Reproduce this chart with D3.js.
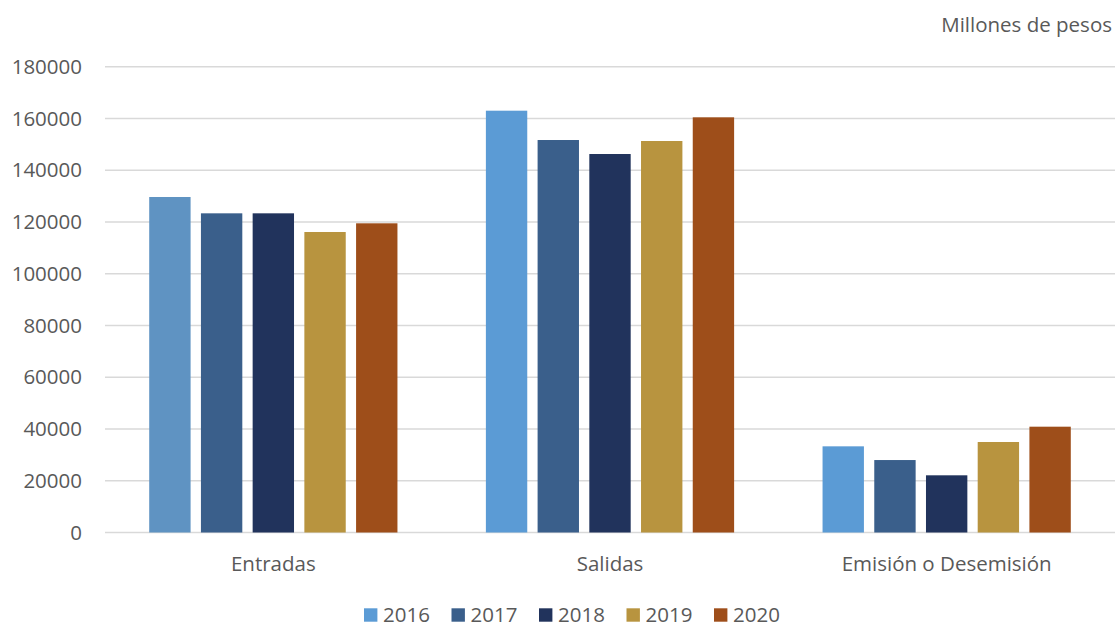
<!DOCTYPE html>
<html>
<head>
<meta charset="utf-8">
<script src="https://cdn.jsdelivr.net/npm/d3@7"></script>
<style>
  body { margin:0; background:#fff; }
  text { font-family:"Open Sans", sans-serif; fill:#595959; }
</style>
</head>
<body>
<div id="plot"></div>
<script>
//data
var categories = ['Entradas','Salidas','Emisión o Desemisión'];
var years = ['2016','2017','2018','2019','2020'];
var values2016 = [129650, 163000, 33300];
var values2017 = [123340, 151670, 28000];
var values2018 = [123340, 146260, 22100];
var values2019 = [116120, 151290, 34970];
var values2020 = [119480, 160440, 40890];
var yTicks = [0,20000,40000,60000,80000,100000,120000,140000,160000,180000];

var colors = ['#5b9bd5','#3a5f8b','#21335c','#b8943f','#9e4e1a'];
var seriesValues = [values2016, values2017, values2018, values2019, values2020];

var W = 1115, H = 627;
var margin = {t:66.7, r:0, b:94.5, l:105};
var width = W - margin.l - margin.r,
	height = H - margin.t - margin.b;

var svg = d3.select('#plot')
	.append('svg')
	.attr('width', W)
	.attr('height', H);

var plot = svg.append('g')
	.attr('transform','translate('+margin.l+','+margin.t+')');

var x0 = d3.scaleBand().domain(categories).range([0,width]);
var x1 = d3.scaleBand().domain(years).range([0,x0.bandwidth()])
	.paddingInner(0.2).paddingOuter(0.855);
var y = d3.scaleLinear().domain([0,180000]).range([height,0]);

//gridlines
plot.selectAll('.grid')
	.data(yTicks)
	.enter()
	.append('line')
	.attr('x1',0).attr('x2',width)
	.attr('y1',function(d){return y(d);})
	.attr('y2',function(d){return y(d);})
	.style('stroke','#d9d9d9')
	.style('stroke-width',1.4);

//tick labels
plot.selectAll('.tick')
	.data(yTicks)
	.enter()
	.append('text')
	.attr('x',-23)
	.attr('y',function(d){return y(d);})
	.attr('dy','0.35em')
	.attr('text-anchor','end')
	.style('font-size','20.5px')
	.text(function(d){return d;});

//bars
var groups = plot.selectAll('.cat')
	.data(categories)
	.enter()
	.append('g')
	.attr('transform',function(d){return 'translate('+x0(d)+',0)';});

groups.selectAll('rect')
	.data(function(c,ci){
		return years.map(function(yr,i){return {cat:c, year:yr, i:i, value:seriesValues[i][ci]};});
	})
	.enter()
	.append('rect')
	.attr('x',function(d){return x1(d.year);})
	.attr('width',x1.bandwidth())
	.attr('y',function(d){return y(d.value);})
	.attr('height',function(d){return height - y(d.value);})
	.style('fill',function(d){
		//the first bar is a touch greyer in the original
		if (d.cat=='Entradas' && d.i==0) return '#5f93c2';
		return colors[d.i];
	});

//category labels
plot.selectAll('.catlabel')
	.data(categories)
	.enter()
	.append('text')
	.attr('x',function(d){return x0(d)+x0.bandwidth()/2;})
	.attr('y',height+31)
	.attr('dy','0.35em')
	.attr('text-anchor','middle')
	.style('font-size','20.5px')
	.text(function(d){return d;});

//unit label
svg.append('text')
	.attr('x',1112)
	.attr('y',25)
	.attr('dy','0.35em')
	.attr('text-anchor','end')
	.style('font-size','20.5px')
	.text('Millones de pesos');

//legend
var legend = svg.selectAll('.legend')
	.data(years)
	.enter()
	.append('g')
	.attr('transform',function(d,i){return 'translate('+(364+i*87.5)+',614.5)';});

legend.append('rect')
	.attr('x',0).attr('y',-6.2)
	.attr('width',13.4).attr('height',13.4)
	.style('fill',function(d,i){return colors[i];});

legend.append('text')
	.attr('x',19)
	.attr('y',0)
	.attr('dy','0.35em')
	.style('font-size','20.5px')
	.text(function(d){return d;});
</script>
</body>
</html>
